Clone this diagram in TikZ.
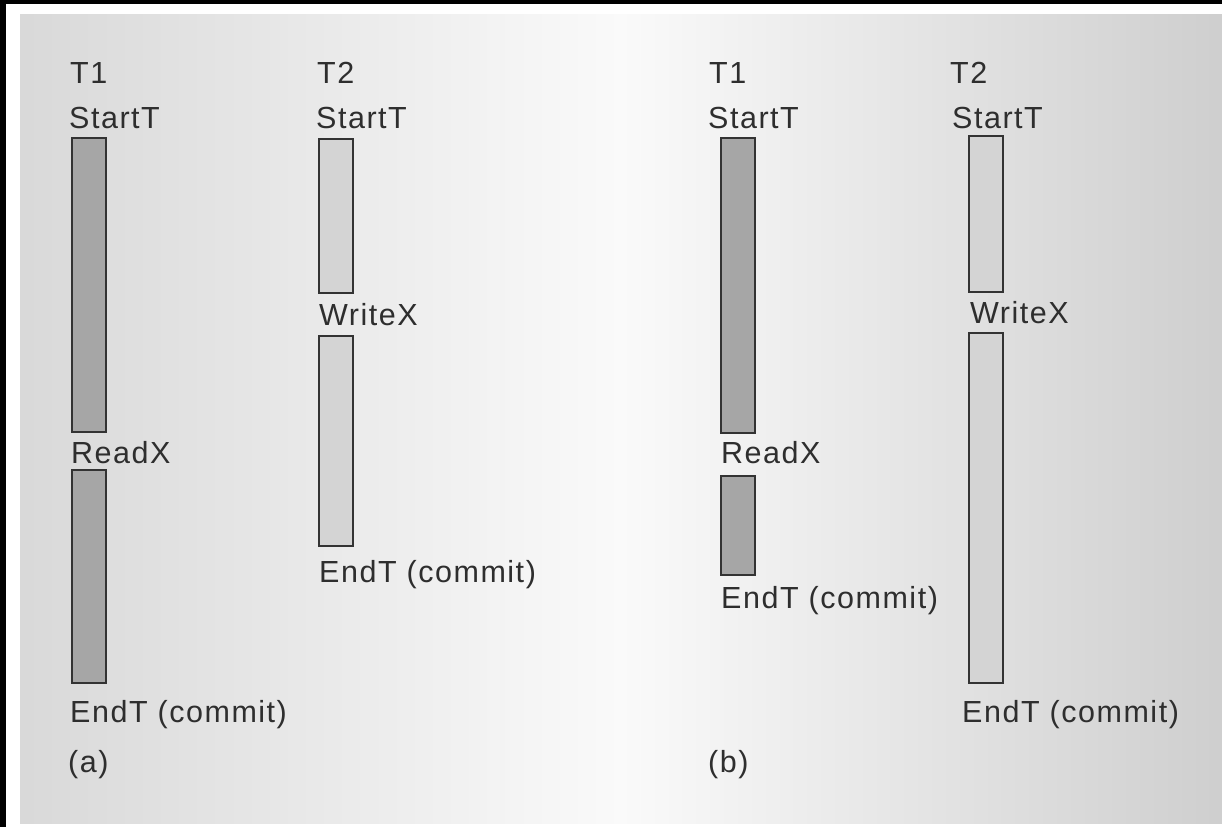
\documentclass[tikz,border=0pt]{standalone}
\usepackage{fontspec}
\setmainfont{Liberation Sans}[LetterSpace=5]
\begin{document}
\begin{tikzpicture}[x=1pt,y=-1pt,
  lbl/.style={anchor=base west, inner sep=0pt, text=black!82,
    font=\fontsize{30.5}{36}\selectfont},
  phase/.style={draw=black!80, line width=2pt, anchor=north west,
    minimum width=34pt, inner sep=0pt, outer sep=0pt},
  readbar/.style={phase, fill=black!35!white},
  writebar/.style={phase, fill=black!17!white}]
\useasboundingbox (0,0) rectangle (1222,827);
% page frame and shaded panel
\fill[white] (0,0) rectangle (1222,827);
\fill[black] (0,0) rectangle (1222,4);
\fill[black] (0,0) rectangle (6,827);
\shade[left color=black!15, right color=black!19, middle color=black!2]
  (20,14) rectangle (1222,823);

\newcommand\phasebar[5]{%
  \node[#1, minimum height={#5-#4}] (#2) at (#3,#4) {};}

% ---------------- (a) ----------------
\node[lbl] (a1) at (70,83) {T1};
\node[lbl] (a1s) at (69,128) {StartT};
\phasebar{readbar}{a1p}{72}{138}{432}
\node[lbl] (a1r) at (71,463) {ReadX};
\phasebar{readbar}{a1q}{72}{470}{683}
\node[lbl] (a1e) at (70,722) {EndT (commit)};
\node[lbl] (alab) at (68,772) {(a)};

\node[lbl] (a2) at (317,83) {T2};
\node[lbl] (a2s) at (316,128) {StartT};
\phasebar{writebar}{a2p}{319}{139}{293}
\node[lbl] (a2w) at (319,325) {WriteX};
\phasebar{writebar}{a2q}{319}{336}{546}
\node[lbl] (a2e) at (319,582) {EndT (commit)};

% ---------------- (b) ----------------
\node[lbl] (b1) at (709,83) {T1};
\node[lbl] (b1s) at (708,128) {StartT};
\phasebar{readbar}{b1p}{721}{138}{433}
\node[lbl] (b1r) at (721,463) {ReadX};
\phasebar{readbar}{b1q}{721}{476}{575}
\node[lbl] (b1e) at (721,608) {EndT (commit)};
\node[lbl] (blab) at (708,772) {(b)};

\node[lbl] (b2) at (950,83) {T2};
\node[lbl] (b2s) at (952,128) {StartT};
\phasebar{writebar}{b2p}{969}{136}{292}
\node[lbl] (b2w) at (970,323) {WriteX};
\phasebar{writebar}{b2q}{969}{333}{683}
\node[lbl] (b2e) at (962,722) {EndT (commit)};
\end{tikzpicture}
\end{document}
